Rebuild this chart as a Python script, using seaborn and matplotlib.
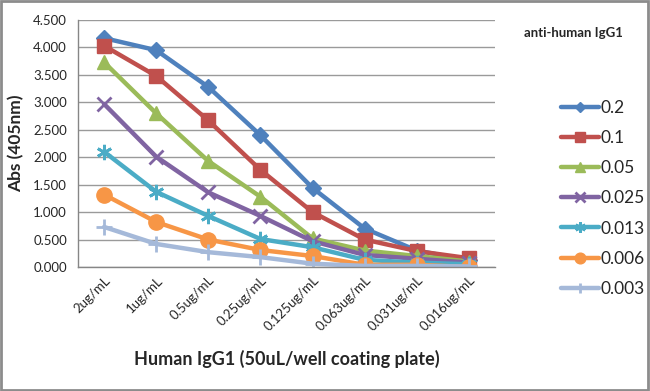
import numpy as np
import pandas as pd
import seaborn as sns
import matplotlib.pyplot as plt
from matplotlib.patches import Rectangle

# 数据
concentrations = ['2ug/mL', '1ug/mL', '0.5ug/mL', '0.25ug/mL', '0.125ug/mL',
                  '0.063ug/mL', '0.031ug/mL', '0.016ug/mL']
series_names = ['0.2', '0.1', '0.05', '0.025', '0.013', '0.006', '0.003']
abs_02 = [4.17, 3.95, 3.28, 2.40, 1.44, 0.70, 0.30, 0.12]
abs_01 = [4.03, 3.48, 2.67, 1.77, 1.00, 0.50, 0.29, 0.16]
abs_005 = [3.73, 2.80, 1.93, 1.28, 0.52, 0.30, 0.20, 0.10]
abs_0025 = [2.97, 2.01, 1.36, 0.93, 0.47, 0.22, 0.15, 0.08]
abs_0013 = [2.10, 1.37, 0.93, 0.51, 0.36, 0.13, 0.08, 0.05]
abs_0006 = [1.32, 0.82, 0.50, 0.31, 0.20, 0.04, 0.04, 0.00]
abs_0003 = [0.73, 0.42, 0.27, 0.18, 0.06, 0.02, 0.02, 0.01]

values = [abs_02, abs_01, abs_005, abs_0025, abs_0013, abs_0006, abs_0003]
colors = ['#4F81BD', '#C0504D', '#9BBB59', '#8064A2', '#4BACC6', '#F79646', '#A5B9D9']
markers = ['D', 's', '^', 'x', (6, 2, 0), 'o', '+']
msizes = [8, 10, 10, 10, 11, 11, 11]

rows = []
for name, vals in zip(series_names, values):
    for i, v in enumerate(vals):
        rows.append({'pos': i, 'Abs': v, 'series': name})
df = pd.DataFrame(rows)

sns.set_style('white')
plt.rcParams['font.family'] = ['Lato', 'DejaVu Sans']

fig = plt.figure(figsize=(6.5, 3.91), dpi=100)
ax = fig.add_axes([78 / 650, 1 - 267 / 391, (495 - 78) / 650, (267 - 20) / 391])

sns.lineplot(data=df, x='pos', y='Abs', hue='series', hue_order=series_names,
             palette=colors, sort=False, legend=False, ax=ax, linewidth=3.2)

for line, c, m, s in zip(ax.lines, colors, markers, msizes):
    line.set_marker(m)
    line.set_markersize(s)
    line.set_markerfacecolor(c)
    line.set_markeredgecolor(c)
    line.set_markeredgewidth(2 if m in ('x', '+', (6, 2, 0)) else 1)

ax.set_ylim(0, 4.5)
ax.set_yticks(np.arange(0, 4.51, 0.5))
ax.set_yticklabels([f'{t:.3f}' for t in np.arange(0, 4.51, 0.5)], fontsize=9.5)
ax.set_xlim(-0.5, len(concentrations) - 0.5)
ax.set_xticks(np.arange(len(concentrations)))
ax.set_xticklabels(concentrations, rotation=45, ha='right', rotation_mode='anchor', fontsize=9.5)
ax.set_xticks(np.arange(len(concentrations) + 1) - 0.5, minor=True)
ax.tick_params(axis='x', which='major', length=0, pad=5)
ax.tick_params(axis='x', which='minor', length=5, color='#868686', direction='out')
ax.tick_params(axis='y', length=5, color='#868686', direction='out', pad=3)
ax.grid(axis='y', color='#9a9a9a', linewidth=1)
ax.set_axisbelow(True)
for side in ['top', 'right']:
    ax.spines[side].set_visible(False)
for side in ['left', 'bottom']:
    ax.spines[side].set_color('#868686')
    ax.spines[side].set_linewidth(1)

ax.set_ylabel('Abs (405nm)', fontsize=12.5, fontweight='bold', labelpad=6)
ax.set_xlabel('Human IgG1 (50uL/well coating plate)', fontsize=13, fontweight='bold', labelpad=12)

fig.legend(ax.lines, series_names, loc='upper left', bbox_to_anchor=(545 / 650, 1 - 84 / 391),
           frameon=False, fontsize=12.5, handlelength=2.2, labelspacing=0.82,
           handletextpad=0.1, markerscale=0.7)
fig.text(573 / 650, 1 - 33 / 391, 'anti-human IgG1', fontsize=9.5, fontweight='bold',
         ha='center', va='center')

fig.patches.append(Rectangle((0.002, 0.003), 0.995, 0.994, transform=fig.transFigure,
                             fill=False, edgecolor='#8c8c8c', linewidth=2))

fig.savefig('out.png', dpi=100)
